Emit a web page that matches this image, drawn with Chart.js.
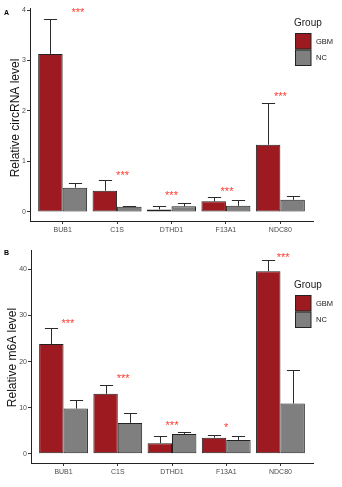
<!DOCTYPE html>
<html>
<head>
<meta charset="utf-8">
<script src="https://cdn.jsdelivr.net/npm/chart.js@4"></script>
<style>
  body { margin: 0; background: #fff; }
  .panel { position: absolute; left: 0; width: 342px; }
  #wrapA { top: 0; height: 240px; }
  #wrapB { top: 240px; height: 247px; }
</style>
</head>
<body>
<div class="panel" id="wrapA"><canvas id="chartA" width="342" height="240"></canvas></div>
<div class="panel" id="wrapB"><canvas id="chartB" width="342" height="247"></canvas></div>
<script>
const genes = ["BUB1", "C1S", "DTHD1", "F13A1", "NDC80"];
const groups = ["GBM", "NC"];

// circRNA
const circGBM = [3.13, 0.42, 0.05, 0.21, 1.33];
const circGBMErr = [3.83, 0.64, 0.11, 0.30, 2.15];
const circNC = [0.48, 0.10, 0.11, 0.12, 0.24];
const circNCErr = [0.58, 0.12, 0.18, 0.24, 0.32];
const circStars = ["***", "***", "***", "***", "***"];
const circStarY = [4.0, 0.77, 0.37, 0.45, 2.32];
const circTicks = [0, 1, 2, 3, 4];

// m6A
const m6aGBM = [23.8, 13.0, 2.3, 3.5, 39.6];
const m6aGBMErr = [27.2, 15.0, 3.8, 4.0, 42.0];
const m6aNC = [9.8, 6.7, 4.3, 3.0, 10.9];
const m6aNCErr = [11.6, 8.8, 4.8, 3.75, 18.2];
const m6aStars = ["***", "***", "***", "*", "***"];
const m6aStarY = [28.8, 16.7, 6.6, 6.2, 43.1];
const m6aTicks = [0, 10, 20, 30, 40];

const FONT = "'Liberation Sans', Arial, sans-serif";
const fills = ["#9d1a20", "#7f7f7f"];

const decor = {
  id: "decor",
  afterDatasetsDraw(chart, args, o) {
    const c = chart.ctx;
    const x = chart.scales.x, y = chart.scales.y;

    // error bars (upper half only)
    chart.data.datasets.forEach((ds, di) => {
      chart.getDatasetMeta(di).data.forEach((bar, i) => {
        const top = Math.round(y.getPixelForValue(ds.err[i])) + 0.5;
        const bx = Math.round(bar.x) + 0.5;
        const half = bar.width * 0.27;
        c.save();
        c.strokeStyle = "#2b2b2b";
        c.lineWidth = 1;
        c.beginPath();
        c.moveTo(bx, bar.y);
        c.lineTo(bx, top);
        c.moveTo(bx - half, top);
        c.lineTo(bx + half, top);
        c.stroke();
        c.restore();
      });
    });

    // significance marks
    c.save();
    c.fillStyle = "#ff3b30";
    c.font = "11px " + FONT;
    c.textAlign = "center";
    c.textBaseline = "middle";
    o.stars.forEach((s, i) => {
      const px = x.getPixelForValue(i + 1 + o.nudge[i]);
      const py = y.getPixelForValue(o.starY[i]);
      c.fillText(s, px, py + 2.5);
    });
    c.restore();

    // legend
    c.save();
    c.fillStyle = "#1a1a1a";
    c.font = "10px " + FONT;
    c.textBaseline = "middle";
    c.fillText("Group", o.legend.x - 1, o.legend.y - 10);
    groups.forEach((g, gi) => {
      const by = o.legend.y + gi * 16.5;
      c.fillStyle = fills[gi];
      c.fillRect(o.legend.x, by, 16, 16);
      c.strokeStyle = "#222";
      c.lineWidth = 1;
      c.strokeRect(o.legend.x + 0.5, by + 0.5, 15.5, 15.5);
      c.fillStyle = "#1a1a1a";
      c.font = "7.5px " + FONT;
      c.fillText(g, o.legend.x + 21, by + 8.5);
    });
    c.restore();

    // panel letter and y title
    c.save();
    c.fillStyle = "#000";
    c.font = "bold 7px " + FONT;
    c.textBaseline = "middle";
    c.fillText(o.letter, 4, 13);
    c.translate(o.titleX, o.titleY);
    c.rotate(-Math.PI / 2);
    c.textAlign = "center";
    c.font = "12px " + FONT;
    c.fillStyle = "#111";
    c.fillText(o.title, 0, 0);
    c.restore();
  }
};

function makePanel(id, p) {
  const toPts = (arr) => arr.map((v, i) => ({ x: i + 1, y: v }));
  return new Chart(document.getElementById(id), {
    type: "bar",
    data: {
      datasets: [
        { label: groups[0], data: toPts(p.gbm), err: p.gbmErr, backgroundColor: fills[0] },
        { label: groups[1], data: toPts(p.nc), err: p.ncErr, backgroundColor: fills[1] }
      ]
    },
    options: {
      responsive: false,
      animation: false,
      events: [],
      layout: { padding: { left: 0, top: p.top, right: 29, bottom: 0 } },
      datasets: {
        bar: {
          categoryPercentage: 0.9, barPercentage: 1.0,
          borderColor: "#222", borderWidth: 1, borderSkipped: false
        }
      },
      plugins: {
        legend: { display: false },
        tooltip: { enabled: false },
        decor: {
          stars: p.stars, starY: p.starY, nudge: p.nudge,
          legend: p.legend, letter: p.letter,
          title: p.title, titleX: p.titleX, titleY: p.titleY
        }
      },
      scales: {
        x: {
          type: "linear",
          offset: false,
          min: 0.4,
          max: 5.6,
          afterFit: (s) => { s.height = p.xh; },
          afterBuildTicks: (s) => { s.ticks = genes.map((g, i) => ({ value: i + 1 })); },
          ticks: {
            callback: (v) => genes[v - 1],
            font: { family: FONT, size: 7 },
            color: "#4d4d4d",
            padding: 2,
            maxRotation: 0
          },
          grid: { offset: false, drawOnChartArea: false, tickLength: 3, tickColor: "#333" },
          border: { color: "#222", width: 1 }
        },
        y: {
          min: p.ymin,
          max: p.ymax,
          afterFit: (s) => { s.width = p.yw; },
          afterBuildTicks: (s) => { s.ticks = p.ticks.map((v) => ({ value: v })); },
          ticks: { font: { family: FONT, size: 7 }, color: "#4d4d4d", padding: 1 },
          grid: { drawOnChartArea: false, tickLength: 3, tickColor: "#333" },
          border: { color: "#222", width: 1 }
        }
      }
    },
    plugins: [decor]
  });
}

makePanel("chartA", {
  gbm: circGBM, gbmErr: circGBMErr, nc: circNC, ncErr: circNCErr,
  stars: circStars, starY: circStarY, nudge: [0.28, 0.1, 0, 0.02, 0],
  ticks: circTicks, ymin: -0.18, ymax: 4.04,
  top: 8, yw: 30, xh: 19,
  legend: { x: 295, y: 33 }, letter: "A",
  title: "Relative circRNA level", titleX: 16, titleY: 118
});

makePanel("chartB", {
  gbm: m6aGBM, gbmErr: m6aGBMErr, nc: m6aNC, ncErr: m6aNCErr,
  stars: m6aStars, starY: m6aStarY, nudge: [0.08, 0.1, 0, 0, 0.05],
  ticks: m6aTicks, ymin: -2.0, ymax: 44.2,
  top: 10, yw: 31, xh: 24,
  legend: { x: 295, y: 55 }, letter: "B",
  title: "Relative m6A level", titleX: 13, titleY: 117.5
});
</script>
</body>
</html>
